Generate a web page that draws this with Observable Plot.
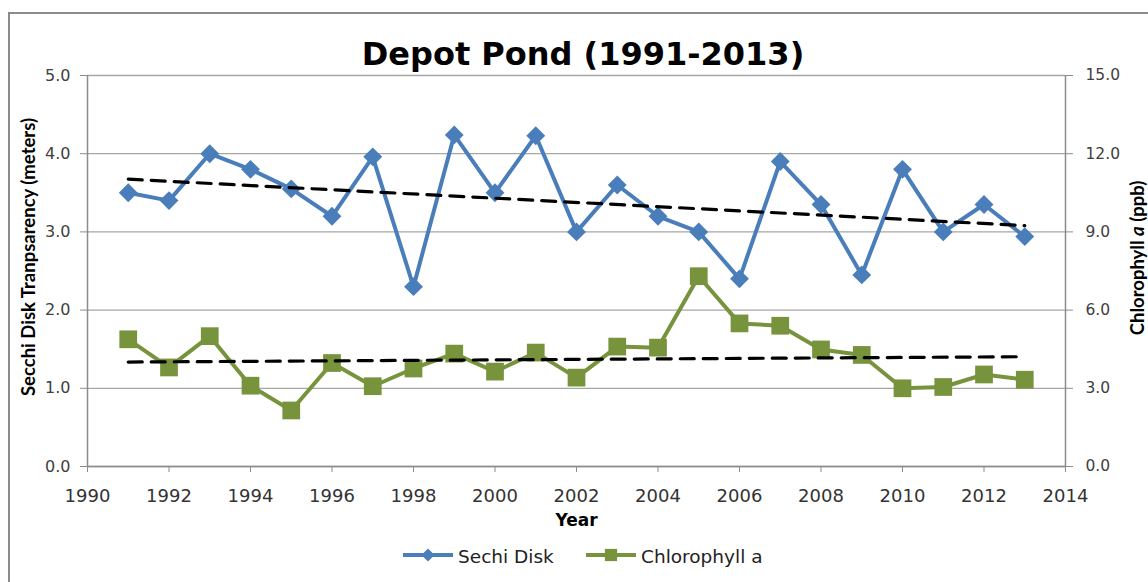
<!DOCTYPE html>
<html>
<head>
<meta charset="utf-8">
<script src="https://cdn.jsdelivr.net/npm/d3@7"></script>
<script src="https://cdn.jsdelivr.net/npm/@observablehq/plot@0.6"></script>
<style>
  html, body { margin: 0; padding: 0; background: #fff; }
  #wrap { position: relative; width: 1148px; height: 582px; overflow: hidden; background: #fff; }
  #border { position: absolute; left: 8px; top: 12px; width: 1200px; height: 700px; border: 2px solid #8c8c8c; box-sizing: border-box; }
  #title { position: absolute; top: 38px; left: 18px; width: 1130px; text-align: center;
           font: bold 32px "DejaVu Sans"; line-height: 32px; color: #000; }
  #chart { position: absolute; top: 62px; left: 0; }
  #legend { position: absolute; top: 540px; left: 0; }
</style>
</head>
<body>
<div id="wrap">
  <div id="border"></div>
  <div id="title">Depot Pond (1991-2013)</div>
  <div id="chart"></div>
  <svg id="legend" width="1148" height="40"></svg>
</div>
<script>
// ---- data ----
const years = [1991, 1992, 1993, 1994, 1995, 1996, 1997, 1998, 1999, 2000, 2001, 2002,
               2003, 2004, 2005, 2006, 2007, 2008, 2009, 2010, 2011, 2012, 2013];
const secchi = [3.50, 3.40, 4.00, 3.80, 3.55, 3.20, 3.96, 2.30, 4.24, 3.50, 4.23, 3.00,
                3.60, 3.20, 3.00, 2.40, 3.90, 3.35, 2.45, 3.80, 3.00, 3.35, 2.94];
const chlorophyll = [4.88, 3.80, 5.00, 3.10, 2.15, 3.97, 3.08, 3.76, 4.33, 3.64, 4.37, 3.41,
                     4.60, 4.56, 7.30, 5.49, 5.40, 4.49, 4.28, 3.00, 3.05, 3.53, 3.33];
const xDomain = [1990, 2014];
const xTicks = [1990, 1992, 1994, 1996, 1998, 2000, 2002, 2004, 2006, 2008, 2010, 2012, 2014];
const yLeftTicks = [0, 1, 2, 3, 4, 5];          // meters
const yRightTicks = [0, 3, 6, 9, 12, 15];       // ppb
const chlRatio = 15 / 5;                        // right axis / left axis
const seriesNames = ["Sechi Disk", "Chlorophyll a"];
const seriesColors = ["#4a7ebb", "#77933c"];
const leftLabel = "Secchi Disk Tranpsarency (meters)";
const xLabel = "Year";

const rows = years.map((year, i) => ({year, secchi: secchi[i], chl: chlorophyll[i]}));

const tickFont = "DejaVu Sans";
const chart = Plot.plot({
  width: 1148,
  height: 480,
  marginTop: 13,
  marginLeft: 87,
  marginRight: 83,
  marginBottom: 76,
  style: {fontFamily: tickFont, background: "transparent", overflow: "visible"},
  x: {domain: xDomain},
  y: {domain: [yLeftTicks[0], yLeftTicks[yLeftTicks.length - 1]]},
  marks: [
    Plot.gridY(yLeftTicks, {stroke: "#a6a6a6", strokeOpacity: 1, strokeWidth: 1.3}),
    Plot.ruleX(xDomain, {stroke: "#8c8c8c", strokeWidth: 1.5}),
    Plot.ruleY(yLeftTicks.slice(0, 1), {stroke: "#8c8c8c", strokeWidth: 1.5}),
    Plot.axisY({anchor: "left", ticks: yLeftTicks, tickFormat: d => d.toFixed(1), tickSize: 7, tickPadding: 10,
                fontSize: 16, stroke: "#8c8c8c", fill: "#404040", label: null}),
    Plot.axisY({anchor: "right", ticks: yLeftTicks, tickFormat: d => (d * chlRatio).toFixed(1), tickSize: 7, tickPadding: 13,
                fontSize: 15.5, stroke: "#8c8c8c", fill: "#404040", label: null}),
    Plot.axisX({ticks: xTicks, tickFormat: d => String(d), tickSize: 6, tickPadding: 17,
                fontSize: 18, stroke: "#8c8c8c", fill: "#333", label: null}),
    Plot.text([xLabel], {frameAnchor: "bottom", dy: 59, fontSize: 17, fontWeight: "bold", fill: "#000", fontFamily: "DejaVu Sans"}),
    Plot.text([leftLabel], {frameAnchor: "left", textAnchor: "middle", lineAnchor: "middle", dx: -58, dy: -14, rotate: -90,
                            fontSize: 18.5, fontWeight: "bold", fill: "#000", fontFamily: "Lato"}),
    // series
    Plot.line(rows, {x: "year", y: "secchi", stroke: seriesColors[0], strokeWidth: 4}),
    Plot.dot(rows, {x: "year", y: "secchi", symbol: "diamond2", r: 8.5, fill: seriesColors[0], stroke: "none"}),
    Plot.line(rows, {x: "year", y: d => d.chl / chlRatio, stroke: seriesColors[1], strokeWidth: 4}),
    Plot.dot(rows, {x: "year", y: d => d.chl / chlRatio, symbol: "square", r: 10, fill: seriesColors[1], stroke: "none"}),
    // linear trendlines
    Plot.linearRegressionY(rows, {x: "year", y: "secchi", ci: 0, stroke: "#000", strokeWidth: 3.2, strokeDasharray: "14,9"}),
    Plot.linearRegressionY(rows, {x: "year", y: d => d.chl / chlRatio, ci: 0, stroke: "#000", strokeWidth: 3.2, strokeDasharray: "14,9"})
  ]
});

// right axis title with italic "a" (svg starts at page y = 62)
const svgSel = d3.select(chart);
const rt = svgSel.append("text")
  .attr("transform", "translate(1137,196) rotate(-90)")
  .attr("text-anchor", "middle")
  .attr("dominant-baseline", "central")
  .attr("font-family", "Lato")
  .attr("font-weight", "bold")
  .attr("font-size", 18.5)
  .attr("fill", "#000");
rt.append("tspan").text("Chlorophyll ");
rt.append("tspan").attr("font-style", "italic").text("a");
rt.append("tspan").text(" (ppb)");

document.getElementById("chart").appendChild(chart);

// legend
const lg = d3.select("#legend");
const legendItems = [
  {name: seriesNames[0], color: seriesColors[0], symbol: d3.symbolDiamond2, size: 110, x0: 403},
  {name: seriesNames[1], color: seriesColors[1], symbol: d3.symbolSquare, size: 150, x0: 586}
];
legendItems.forEach(it => {
  const g = lg.append("g").attr("transform", `translate(${it.x0},15)`);
  g.append("line").attr("x1", 0).attr("x2", 50).attr("y1", 0).attr("y2", 0)
    .attr("stroke", it.color).attr("stroke-width", 4);
  g.append("path").attr("d", d3.symbol(it.symbol, it.size)()).attr("transform", "translate(25,0)").attr("fill", it.color);
  g.append("text").attr("x", 55).attr("y", 8).attr("font-family", "DejaVu Sans").attr("font-size", 18.5)
    .attr("fill", "#222").text(it.name);
});
</script>
</body>
</html>
